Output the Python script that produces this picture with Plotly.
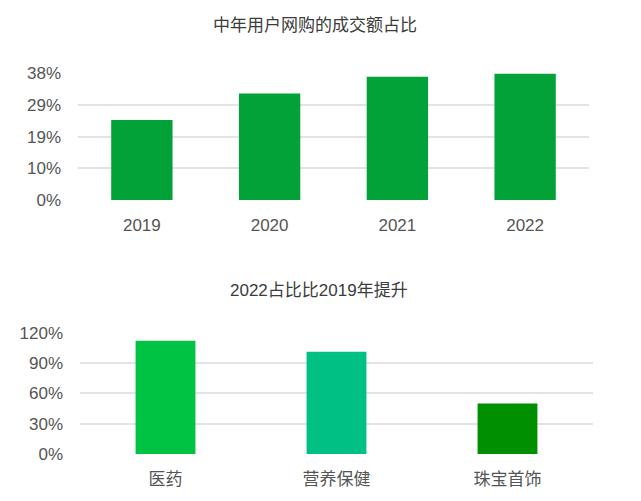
import plotly.graph_objects as go

# top chart: share of online spend by middle-aged users
years = ["2019", "2020", "2021", "2022"]
share = [0.24, 0.32, 0.37, 0.38]
share_ticks = [0, 0.095, 0.19, 0.285, 0.38]
share_tick_labels = ["0%", "10%", "19%", "29%", "38%"]

# bottom chart: growth 2022 vs 2019 by category
categories = ["医药", "营养保健", "珠宝首饰"]
growth = [1.12, 1.01, 0.50]
growth_colors = ["#00c343", "#00c183", "#008f00"]

W, H = 641, 501
OFF = 8  # page body margin shifts the figure by 8px
FONT = "Liberation Sans, Noto Sans CJK SC, sans-serif"
GRID = "#e3e3e3"
TICK_FONT = dict(family=FONT, size=17, color="#555555")


def px_x(x):
    return (x - OFF) / W


def px_y(y):
    return (H - (y - OFF)) / H


fig = go.Figure()

fig.add_trace(go.Bar(
    x=years, y=share, marker_color="#02a239", marker_line_width=0,
    xaxis="x", yaxis="y", showlegend=False, width=0.48,
))
fig.add_trace(go.Bar(
    x=categories, y=growth, marker_color=growth_colors, marker_line_width=0,
    xaxis="x2", yaxis="y2", showlegend=False, width=0.35,
))

fig.update_layout(
    width=W, height=H,
    margin=dict(l=0, r=0, t=0, b=0),
    paper_bgcolor="white", plot_bgcolor="white",
    font=dict(family=FONT),
    xaxis=dict(
        domain=[px_x(78), px_x(589)], anchor="y",
        showgrid=False, showline=False, zeroline=False,
        tickfont=TICK_FONT, ticklabelstandoff=13,
    ),
    yaxis=dict(
        domain=[px_y(198.3), px_y(66.7)], anchor="x",
        range=[0, 0.38], tickvals=share_ticks, ticktext=share_tick_labels,
        showgrid=True, gridcolor=GRID, gridwidth=1.5,
        zeroline=False, showline=False,
        tickfont=TICK_FONT, ticklabelstandoff=16,
    ),
    xaxis2=dict(
        domain=[px_x(80), px_x(593)], anchor="y2",
        showgrid=False, showline=False, zeroline=False,
        tickfont=TICK_FONT, ticklabelstandoff=13,
    ),
    yaxis2=dict(
        domain=[px_y(462.3), px_y(336)], anchor="x2",
        range=[0, 1.2], dtick=0.3, tickformat=".0%",
        showgrid=True, gridcolor=GRID, gridwidth=1.5,
        zeroline=False, showline=False,
        tickfont=TICK_FONT, ticklabelstandoff=16,
    ),
    annotations=[
        dict(text="中年用户网购的成交额占比", x=px_x(315), y=px_y(17),
             xref="paper", yref="paper", showarrow=False,
             xanchor="center", yanchor="middle",
             font=dict(family=FONT, size=17, color="#3c3c3c")),
        dict(text="2022占比比2019年提升", x=px_x(319), y=px_y(292.5),
             xref="paper", yref="paper", showarrow=False,
             xanchor="center", yanchor="middle",
             font=dict(family=FONT, size=17, color="#3c3c3c")),
    ],
)

fig.write_html("out.html")
